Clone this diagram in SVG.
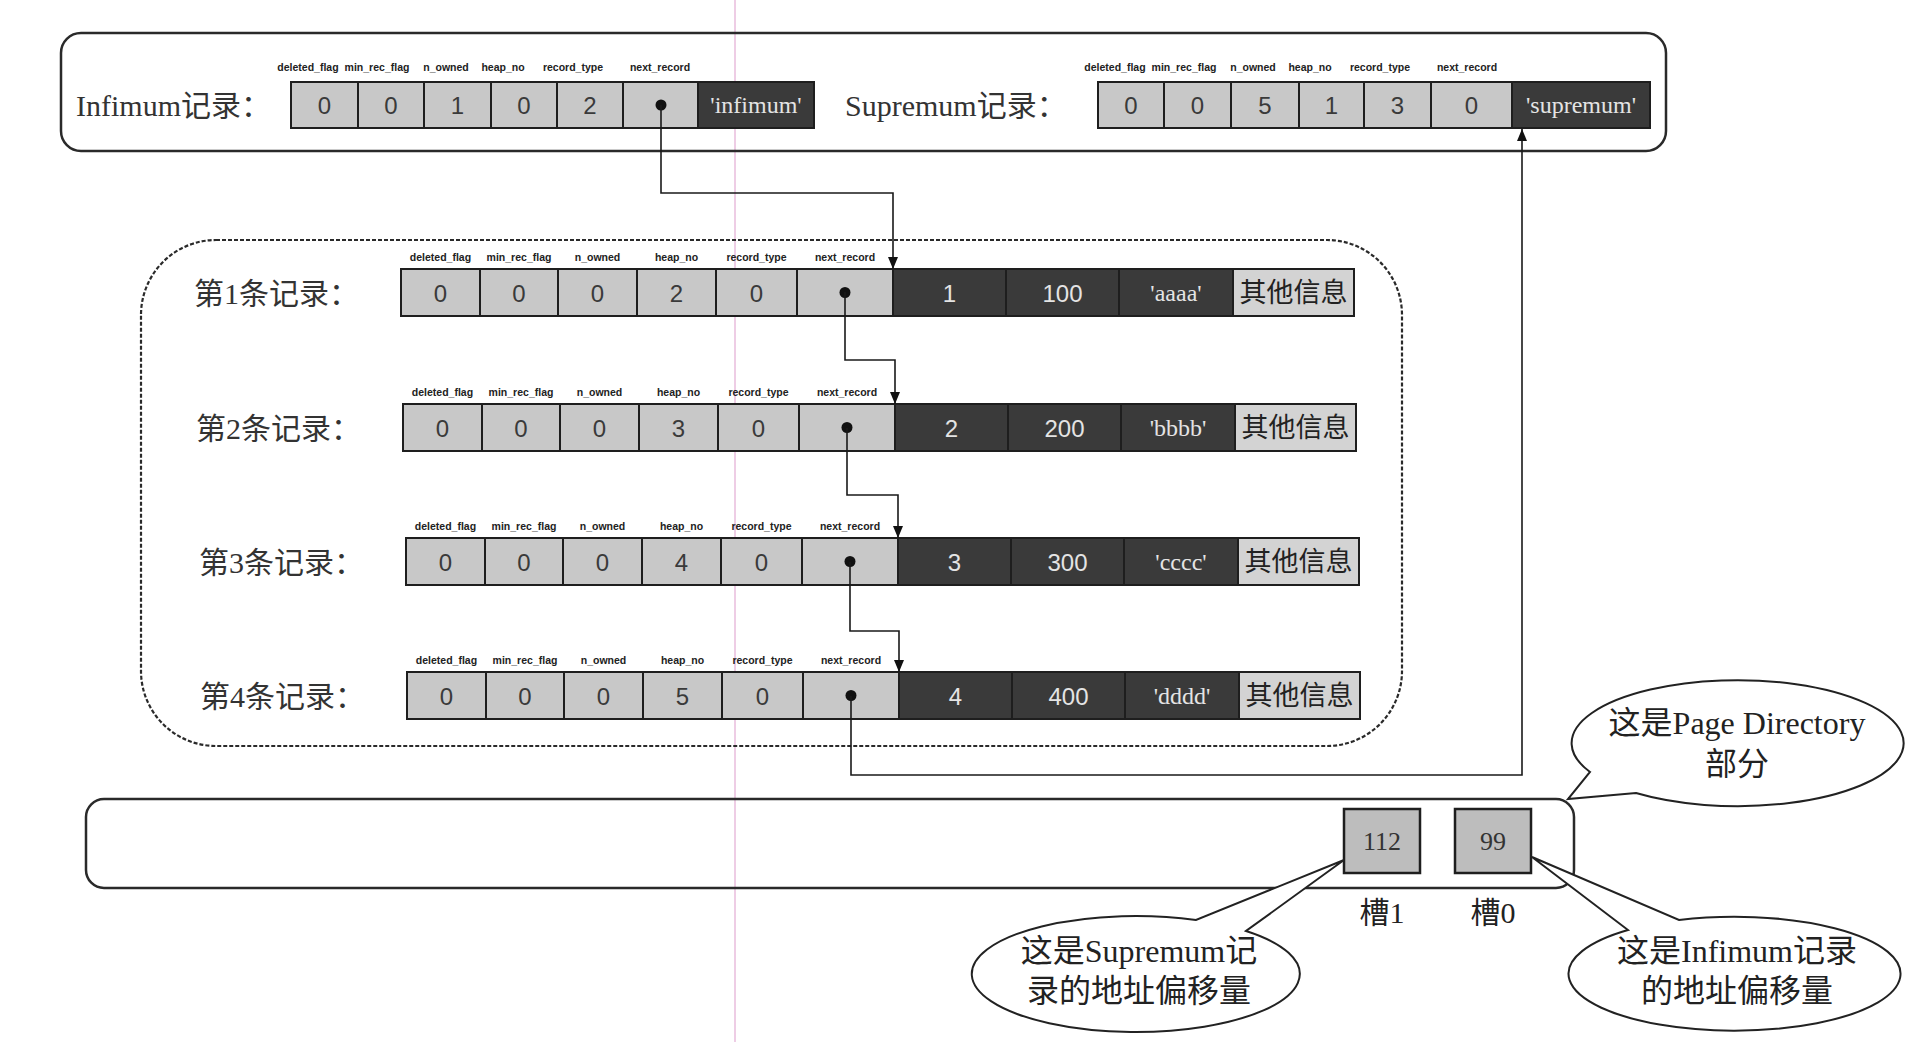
<svg xmlns="http://www.w3.org/2000/svg" width="1928" height="1042" viewBox="0 0 1928 1042">
<defs>
<style>
.lc{fill:#c8c8c8;stroke:#1e1e1e;stroke-width:2}
.dc{fill:#3a3a3a;stroke:#1e1e1e;stroke-width:2}
.oc{fill:#d3d3d3;stroke:#1e1e1e;stroke-width:2}
.v{font-family:"Liberation Sans",sans-serif;font-size:24px;text-anchor:middle;dominant-baseline:central;fill:#3a3a3a}
.vd{font-family:"Liberation Sans",sans-serif;font-size:24px;text-anchor:middle;dominant-baseline:central;fill:#e4e4e4}
.vq{font-family:"Liberation Serif",serif;font-size:24px;text-anchor:middle;dominant-baseline:central;fill:#e4e4e4}
.vo{font-family:"Liberation Serif","Noto Sans CJK SC",serif;font-size:27px;text-anchor:middle;dominant-baseline:central;fill:#222}
.lb{font-family:"Liberation Sans",sans-serif;font-size:10.5px;font-weight:bold;text-anchor:middle;fill:#222}
.nm{font-family:"Liberation Serif","Noto Sans CJK SC",serif;font-size:30px;dominant-baseline:central;fill:#333}
.cj{font-family:"Liberation Serif","Noto Sans CJK SC",serif;font-size:32px;text-anchor:middle;dominant-baseline:central;fill:#222}
.sl{font-family:"Liberation Serif",serif;font-size:26px;text-anchor:middle;dominant-baseline:central;fill:#333}
.dot{fill:#111}
.conn{fill:none;stroke:#1a1a1a;stroke-width:1.6}
.box{fill:none;stroke:#2a2a2a;stroke-width:2.5}
.dash{fill:none;stroke:#2a2a2a;stroke-width:2.2;stroke-dasharray:4 2}
.bub{fill:#fff;stroke:#222;stroke-width:2}
.slot{fill:#bdbdbd;stroke:#1e1e1e;stroke-width:2.5}
</style>
<marker id="ah" markerUnits="userSpaceOnUse" markerWidth="12" markerHeight="10" refX="12" refY="5" orient="auto">
<path d="M0,0 L12,5 L0,10 Z" fill="#111"/>
</marker>
</defs>
<rect width="1928" height="1042" fill="#fff"/>
<line x1="735" y1="0" x2="735" y2="1042" stroke="#e8bddc" stroke-width="1.5"/>

<g id="top-box">
<rect class="box" x="61" y="33" width="1605" height="118" rx="20"/>
</g>

<g id="infimum">
<text class="nm" x="76" y="105">Infimum记录：</text>
<text class="lb" x="308" y="71">deleted_flag</text>
<text class="lb" x="377" y="71">min_rec_flag</text>
<text class="lb" x="446" y="71">n_owned</text>
<text class="lb" x="503" y="71">heap_no</text>
<text class="lb" x="573" y="71">record_type</text>
<text class="lb" x="660" y="71">next_record</text>
<rect class="lc" x="291" y="82" width="67" height="46"/>
<rect class="lc" x="358" y="82" width="66" height="46"/>
<rect class="lc" x="424" y="82" width="67" height="46"/>
<rect class="lc" x="491" y="82" width="66" height="46"/>
<rect class="lc" x="557" y="82" width="66" height="46"/>
<rect class="lc" x="623" y="82" width="75" height="46"/>
<rect class="dc" x="698" y="82" width="116" height="46"/>
<text class="v" x="324.5" y="105">0</text>
<text class="v" x="391" y="105">0</text>
<text class="v" x="457.5" y="105">1</text>
<text class="v" x="524" y="105">0</text>
<text class="v" x="590" y="105">2</text>
<circle class="dot" cx="661" cy="105" r="5.5"/>
<text class="vq" x="756" y="105">'infimum'</text>
</g>

<g id="supremum">
<text class="nm" x="845" y="105">Supremum记录：</text>
<text class="lb" x="1115" y="71">deleted_flag</text>
<text class="lb" x="1184" y="71">min_rec_flag</text>
<text class="lb" x="1253" y="71">n_owned</text>
<text class="lb" x="1310" y="71">heap_no</text>
<text class="lb" x="1380" y="71">record_type</text>
<text class="lb" x="1467" y="71">next_record</text>
<rect class="lc" x="1098" y="82" width="66" height="46"/>
<rect class="lc" x="1164" y="82" width="67" height="46"/>
<rect class="lc" x="1231" y="82" width="68" height="46"/>
<rect class="lc" x="1299" y="82" width="65" height="46"/>
<rect class="lc" x="1364" y="82" width="67" height="46"/>
<rect class="lc" x="1431" y="82" width="81" height="46"/>
<rect class="dc" x="1512" y="82" width="138" height="46"/>
<text class="v" x="1131" y="105">0</text>
<text class="v" x="1197.5" y="105">0</text>
<text class="v" x="1265" y="105">5</text>
<text class="v" x="1331.5" y="105">1</text>
<text class="v" x="1397.5" y="105">3</text>
<text class="v" x="1471.5" y="105">0</text>
<text class="vq" x="1581" y="105">'supremum'</text>
</g>

<g id="records-box">
<rect class="dash" x="141" y="240" width="1261" height="506" rx="75"/>
</g>

<g id="record1" transform="translate(401,269)">
<text class="nm" x="-207" y="24">第1条记录：</text>
<text class="lb" x="39.5" y="-8">deleted_flag</text><text class="lb" x="118" y="-8">min_rec_flag</text><text class="lb" x="196.5" y="-8">n_owned</text><text class="lb" x="275.5" y="-8">heap_no</text><text class="lb" x="355.5" y="-8">record_type</text><text class="lb" x="444" y="-8">next_record</text>
<rect class="lc" x="0" y="0" width="79" height="47"/><rect class="lc" x="79" y="0" width="78" height="47"/><rect class="lc" x="157" y="0" width="79" height="47"/><rect class="lc" x="236" y="0" width="79" height="47"/><rect class="lc" x="315" y="0" width="81" height="47"/><rect class="lc" x="396" y="0" width="96" height="47"/>
<rect class="dc" x="492" y="0" width="113" height="47"/><rect class="dc" x="605" y="0" width="113" height="47"/><rect class="dc" x="718" y="0" width="114" height="47"/><rect class="oc" x="832" y="0" width="121" height="47"/>
<text class="v" x="39.5" y="24">0</text><text class="v" x="118" y="24">0</text><text class="v" x="196.5" y="24">0</text><text class="v" x="275.5" y="24">2</text><text class="v" x="355.5" y="24">0</text>
<circle class="dot" cx="444" cy="23.5" r="5.5"/>
<text class="vd" x="548.5" y="24">1</text><text class="vd" x="661.5" y="24">100</text><text class="vq" x="775" y="24">'aaaa'</text><text class="vo" x="892.5" y="24">其他信息</text>
</g>

<g id="record2" transform="translate(403,404)">
<text class="nm" x="-207" y="24">第2条记录：</text>
<text class="lb" x="39.5" y="-8">deleted_flag</text><text class="lb" x="118" y="-8">min_rec_flag</text><text class="lb" x="196.5" y="-8">n_owned</text><text class="lb" x="275.5" y="-8">heap_no</text><text class="lb" x="355.5" y="-8">record_type</text><text class="lb" x="444" y="-8">next_record</text>
<rect class="lc" x="0" y="0" width="79" height="47"/><rect class="lc" x="79" y="0" width="78" height="47"/><rect class="lc" x="157" y="0" width="79" height="47"/><rect class="lc" x="236" y="0" width="79" height="47"/><rect class="lc" x="315" y="0" width="81" height="47"/><rect class="lc" x="396" y="0" width="96" height="47"/>
<rect class="dc" x="492" y="0" width="113" height="47"/><rect class="dc" x="605" y="0" width="113" height="47"/><rect class="dc" x="718" y="0" width="114" height="47"/><rect class="oc" x="832" y="0" width="121" height="47"/>
<text class="v" x="39.5" y="24">0</text><text class="v" x="118" y="24">0</text><text class="v" x="196.5" y="24">0</text><text class="v" x="275.5" y="24">3</text><text class="v" x="355.5" y="24">0</text>
<circle class="dot" cx="444" cy="23.5" r="5.5"/>
<text class="vd" x="548.5" y="24">2</text><text class="vd" x="661.5" y="24">200</text><text class="vq" x="775" y="24">'bbbb'</text><text class="vo" x="892.5" y="24">其他信息</text>
</g>

<g id="record3" transform="translate(406,538)">
<text class="nm" x="-207" y="24">第3条记录：</text>
<text class="lb" x="39.5" y="-8">deleted_flag</text><text class="lb" x="118" y="-8">min_rec_flag</text><text class="lb" x="196.5" y="-8">n_owned</text><text class="lb" x="275.5" y="-8">heap_no</text><text class="lb" x="355.5" y="-8">record_type</text><text class="lb" x="444" y="-8">next_record</text>
<rect class="lc" x="0" y="0" width="79" height="47"/><rect class="lc" x="79" y="0" width="78" height="47"/><rect class="lc" x="157" y="0" width="79" height="47"/><rect class="lc" x="236" y="0" width="79" height="47"/><rect class="lc" x="315" y="0" width="81" height="47"/><rect class="lc" x="396" y="0" width="96" height="47"/>
<rect class="dc" x="492" y="0" width="113" height="47"/><rect class="dc" x="605" y="0" width="113" height="47"/><rect class="dc" x="718" y="0" width="114" height="47"/><rect class="oc" x="832" y="0" width="121" height="47"/>
<text class="v" x="39.5" y="24">0</text><text class="v" x="118" y="24">0</text><text class="v" x="196.5" y="24">0</text><text class="v" x="275.5" y="24">4</text><text class="v" x="355.5" y="24">0</text>
<circle class="dot" cx="444" cy="23.5" r="5.5"/>
<text class="vd" x="548.5" y="24">3</text><text class="vd" x="661.5" y="24">300</text><text class="vq" x="775" y="24">'cccc'</text><text class="vo" x="892.5" y="24">其他信息</text>
</g>

<g id="record4" transform="translate(407,672)">
<text class="nm" x="-207" y="24">第4条记录：</text>
<text class="lb" x="39.5" y="-8">deleted_flag</text><text class="lb" x="118" y="-8">min_rec_flag</text><text class="lb" x="196.5" y="-8">n_owned</text><text class="lb" x="275.5" y="-8">heap_no</text><text class="lb" x="355.5" y="-8">record_type</text><text class="lb" x="444" y="-8">next_record</text>
<rect class="lc" x="0" y="0" width="79" height="47"/><rect class="lc" x="79" y="0" width="78" height="47"/><rect class="lc" x="157" y="0" width="79" height="47"/><rect class="lc" x="236" y="0" width="79" height="47"/><rect class="lc" x="315" y="0" width="81" height="47"/><rect class="lc" x="396" y="0" width="96" height="47"/>
<rect class="dc" x="492" y="0" width="113" height="47"/><rect class="dc" x="605" y="0" width="113" height="47"/><rect class="dc" x="718" y="0" width="114" height="47"/><rect class="oc" x="832" y="0" width="121" height="47"/>
<text class="v" x="39.5" y="24">0</text><text class="v" x="118" y="24">0</text><text class="v" x="196.5" y="24">0</text><text class="v" x="275.5" y="24">5</text><text class="v" x="355.5" y="24">0</text>
<circle class="dot" cx="444" cy="23.5" r="5.5"/>
<text class="vd" x="548.5" y="24">4</text><text class="vd" x="661.5" y="24">400</text><text class="vq" x="775" y="24">'dddd'</text><text class="vo" x="892.5" y="24">其他信息</text>
</g>

<g id="page-directory">
<rect class="box" x="86" y="799" width="1488" height="89" rx="18"/>
</g>
<g id="slot1">
<rect class="slot" x="1344" y="809" width="76" height="64"/>
<text class="sl" x="1382" y="841">112</text>
<text class="cj" x="1382" y="912" style="font-size:30px">槽1</text>
</g>
<g id="slot0">
<rect class="slot" x="1455" y="809" width="76" height="64"/>
<text class="sl" x="1493" y="841">99</text>
<text class="cj" x="1493" y="912" style="font-size:30px">槽0</text>
</g>

<g id="callout-page-directory">
<path class="bub" d="M1590,772 A166,63 0 1,1 1636,793 L1568,799 Z"/>
<text class="cj" x="1737" y="723">这是Page Directory</text>
<text class="cj" x="1737" y="764">部分</text>
</g>
<g id="callout-supremum">
<path class="bub" d="M1196,920 A164,58 0 1,0 1246,931 L1344,860 Z"/>
<text class="cj" x="1139" y="951">这是Supremum记</text>
<text class="cj" x="1139" y="991">录的地址偏移量</text>
</g>
<g id="callout-infimum">
<path class="bub" d="M1628,930 A166,57 0 1,0 1679,920 L1532,857 Z"/>
<text class="cj" x="1737" y="951">这是Infimum记录</text>
<text class="cj" x="1737" y="991">的地址偏移量</text>
</g>

<g id="connectors">
<path class="conn" d="M661,105 V193 H893 V269" marker-end="url(#ah)"/>
<path class="conn" d="M845,292 V360 H895 V404" marker-end="url(#ah)"/>
<path class="conn" d="M847,428 V495 H898 V538" marker-end="url(#ah)"/>
<path class="conn" d="M850,562 V631 H899 V672" marker-end="url(#ah)"/>
<path class="conn" d="M851,696 V775 H1522 V129" marker-end="url(#ah)"/>
</g>
</svg>
